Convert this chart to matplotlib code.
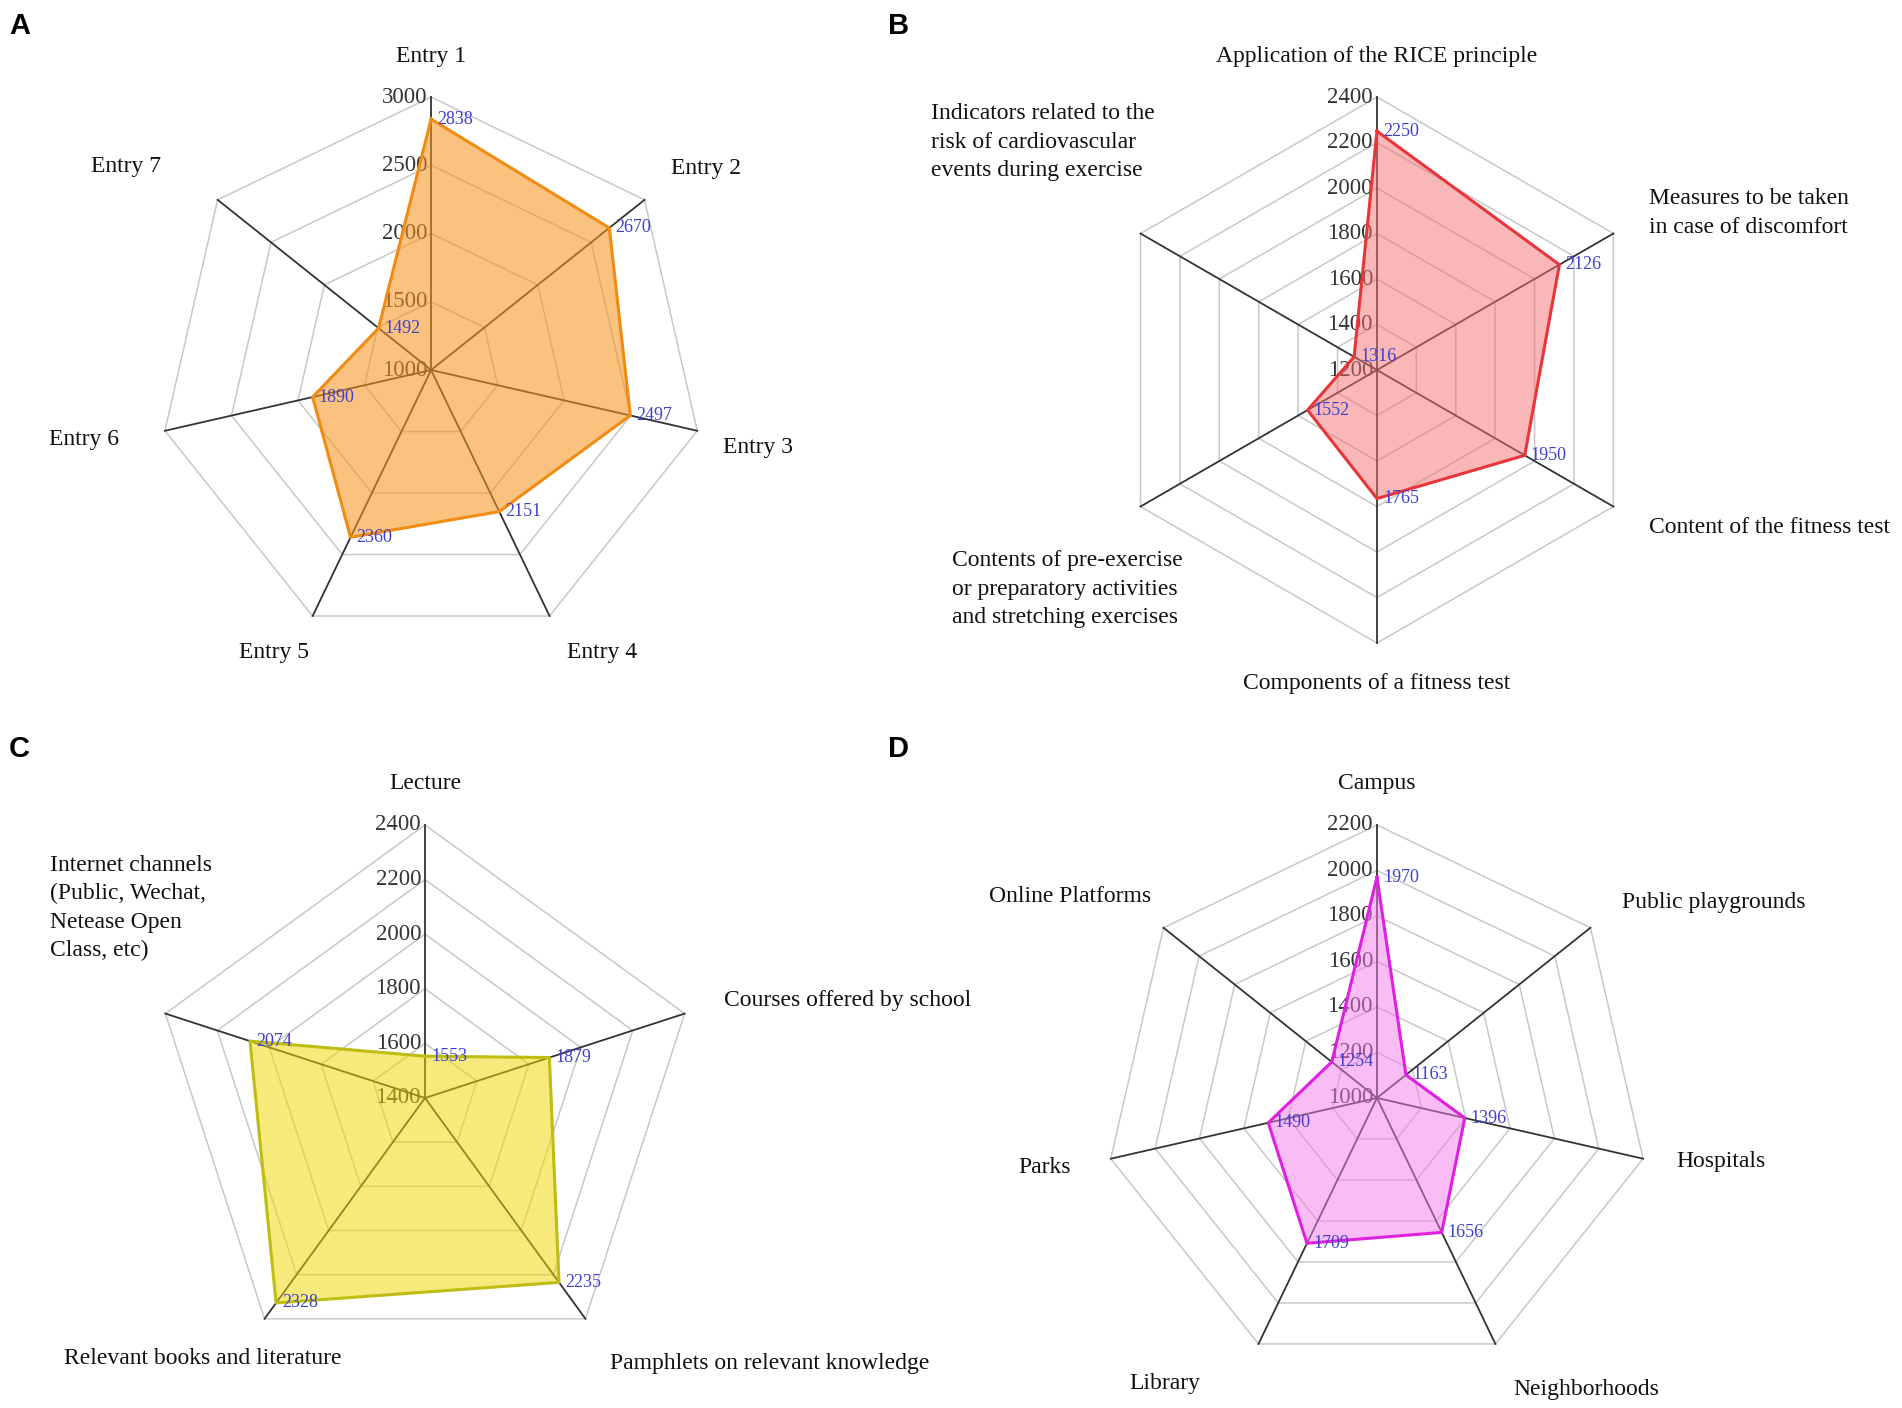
import numpy as np
import matplotlib
matplotlib.use("Agg")
import matplotlib.pyplot as plt
from matplotlib.transforms import offset_copy

plt.rcParams["font.family"] = ["Liberation Serif", "DejaVu Serif"]

# Panel A
names_a = ["Entry 1", "Entry 2", "Entry 3", "Entry 4", "Entry 5", "Entry 6", "Entry 7"]
values_a = [2838, 2670, 2497, 2151, 2360, 1890, 1492]
ticks_a = [1000, 1500, 2000, 2500, 3000]

# Panel B
names_b = ["Application of the RICE principle",
           "Measures to be taken\nin case of discomfort",
           "Content of the fitness test",
           "Components of a fitness test",
           "Contents of pre-exercise\nor preparatory activities\nand stretching exercises",
           "Indicators related to the\nrisk of cardiovascular\nevents during exercise"]
values_b = [2250, 2126, 1950, 1765, 1552, 1316]
ticks_b = [1200, 1400, 1600, 1800, 2000, 2200, 2400]

# Panel C
names_c = ["Lecture", "Courses offered by school", "Pamphlets on relevant knowledge",
           "Relevant books and literature",
           "Internet channels\n(Public, Wechat,\nNetease Open\nClass, etc)"]
values_c = [1553, 1879, 2235, 2328, 2074]
ticks_c = [1400, 1600, 1800, 2000, 2200, 2400]

# Panel D
names_d = ["Campus", "Public playgrounds", "Hospitals", "Neighborhoods",
           "Library", "Parks", "Online Platforms"]
values_d = [1970, 1163, 1396, 1656, 1709, 1490, 1254]
ticks_d = [1000, 1200, 1400, 1600, 1800, 2000, 2200]

fig = plt.figure(figsize=(19.02, 14.08), dpi=100)


def shifted(ax, dx, dy):
    return offset_copy(ax.transData, fig=fig, x=dx, y=dy, units="dots")


def radar(ax, names, values, ticks, line_color, fill_color, fill_alpha, shifts):
    n = len(names)
    ang = np.arange(n) * 2 * np.pi / n
    rmin, rmax = ticks[0], ticks[-1]
    ax.set_theta_zero_location("N")
    ax.set_theta_direction(-1)
    ax.set_ylim(rmin, rmax)
    ax.set_axis_off()

    closed = np.append(ang, ang[0])
    for t in ticks[1:]:
        ax.plot(closed, [t] * (n + 1), color="#c8c8c8", lw=1.1, zorder=1, clip_on=False)
    for a in ang:
        ax.plot([a, a], [rmin, rmax], color="#333333", lw=1.3, zorder=1, clip_on=False)
    for t in ticks:
        ax.text(0, t, str(t), transform=shifted(ax, -4, 0), ha="right", va="center",
                fontsize=16.5, color="#333333", zorder=1)

    vals = np.append(values, values[0])
    ax.fill(closed, vals, color=fill_color, alpha=fill_alpha, lw=0, zorder=2)
    ax.plot(closed, vals, color=line_color, lw=2.2, zorder=3, clip_on=False)
    for a, v in zip(ang, values):
        ax.text(a, v, str(v), transform=shifted(ax, 6, 0), ha="left", va="center",
                fontsize=13, color="#3f3fd0", zorder=4)

    r_lab = rmin + 1.15 * (rmax - rmin)
    for a, name in zip(ang, names):
        s = np.sin(a)
        if abs(s) < 0.05:
            ha = "center"
        elif s > 0:
            ha = "left"
        else:
            ha = "right"
        dx, dy = shifts.get(name, (0, 0))
        ax.text(a, r_lab, name, transform=shifted(ax, dx, dy), ha=ha, va="center",
                multialignment="left", fontsize=17, color="#111111",
                linespacing=1.45)


w, h = 0.2871, 0.3878
ax_a = fig.add_axes([0.0831, 0.5433, w, h], projection="polar")
ax_b = fig.add_axes([0.5804, 0.5433, w, h], projection="polar")
ax_c = fig.add_axes([0.0799, 0.0263, w, h], projection="polar")
ax_d = fig.add_axes([0.5804, 0.0263, w, h], projection="polar")

radar(ax_a, names_a, values_a, ticks_a, "#f08c14", "#f7941d", 0.57,
      {"Entry 7": (-25, 8), "Entry 5": (14, 0), "Entry 3": (-14, -8),
       "Entry 2": (-6, 6), "Entry 6": (-6, 0)})
radar(ax_b, names_b, values_b, ticks_b, "#e8353a", "#f57070", 0.5,
      {names_b[5]: (50, 71), names_b[4]: (78, -62)})
radar(ax_c, names_c, values_c, ticks_c, "#bdbd14", "#f0d800", 0.52,
      {names_c[4]: (86, 93), names_c[3]: (101, -7), names_c[2]: (0, -12)})
radar(ax_d, names_d, values_d, ticks_d, "#e020e0", "#f57aeb", 0.5,
      {"Library": (-40, -3), "Online Platforms": (20, 6), "Hospitals": (-7, 6),
       "Neighborhoods": (0, -9)})

for letter, x, y in [("A", 9, 12), ("B", 888, 12), ("C", 9, 735), ("D", 888, 735)]:
    fig.text(x / 1902, 1 - y / 1408, letter, fontsize=21, fontweight="bold",
             family="Liberation Sans", ha="left", va="top")

fig.savefig("out.png", dpi=100)
